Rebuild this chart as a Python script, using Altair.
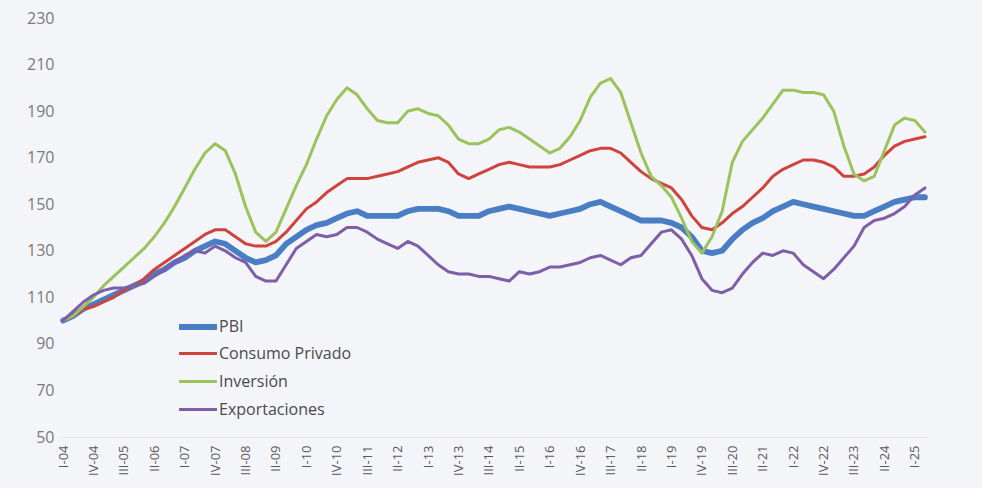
import altair as alt
import pandas as pd

romans = ["I", "II", "III", "IV"]
quarters = [f"{r}-{y:02d}" for y in range(4, 26) for r in romans][:86]

pbi = [100, 102, 105, 107, 109, 111, 113, 115, 117, 120, 122, 125, 127, 130, 132, 134, 133, 130, 127, 125,
       126, 128, 133, 136, 139, 141, 142, 144, 146, 147, 145, 145, 145, 145, 147, 148, 148, 148, 147, 145,
       145, 145, 147, 148, 149, 148, 147, 146, 145, 146, 147, 148, 150, 151, 149, 147, 145, 143, 143, 143,
       142, 140, 136, 130, 129, 130, 135, 139, 142, 144, 147, 149, 151, 150, 149, 148, 147, 146, 145, 145,
       147, 149, 151, 152, 153, 153]
consumo = [100, 102, 105, 106, 108, 110, 113, 115, 118, 122, 125, 128, 131, 134, 137, 139, 139, 136, 133, 132,
           132, 134, 138, 143, 148, 151, 155, 158, 161, 161, 161, 162, 163, 164, 166, 168, 169, 170, 168, 163,
           161, 163, 165, 167, 168, 167, 166, 166, 166, 167, 169, 171, 173, 174, 174, 172, 168, 164, 161, 159,
           157, 152, 145, 140, 139, 142, 146, 149, 153, 157, 162, 165, 167, 169, 169, 168, 166, 162, 162, 163,
           166, 171, 175, 177, 178, 179]
inversion = [100, 102, 106, 110, 115, 119, 123, 127, 131, 136, 142, 149, 157, 165, 172, 176, 173, 163, 149, 138,
             134, 138, 148, 158, 167, 178, 188, 195, 200, 197, 191, 186, 185, 185, 190, 191, 189, 188, 184, 178,
             176, 176, 178, 182, 183, 181, 178, 175, 172, 174, 179, 186, 196, 202, 204, 198, 185, 172, 162, 158,
             153, 144, 134, 129, 136, 147, 168, 177, 182, 187, 193, 199, 199, 198, 198, 197, 190, 175, 163, 160,
             162, 173, 184, 187, 186, 181]
exportaciones = [100, 104, 108, 111, 113, 114, 114, 115, 116, 119, 122, 125, 128, 130, 129, 132, 130, 127, 125, 119,
                 117, 117, 124, 131, 134, 137, 136, 137, 140, 140, 138, 135, 133, 131, 134, 132, 128, 124, 121, 120,
                 120, 119, 119, 118, 117, 121, 120, 121, 123, 123, 124, 125, 127, 128, 126, 124, 127, 128, 133, 138,
                 139, 135, 128, 118, 113, 112, 114, 120, 125, 129, 128, 130, 129, 124, 121, 118, 122, 127, 132, 140,
                 143, 144, 146, 149, 154, 157]

series_names = ["PBI", "Consumo Privado", "Inversión", "Exportaciones"]
series_colors = ["#4a7ec4", "#d0433d", "#9bc35b", "#7e5ea8"]
series_widths = [5.8, 3, 3, 3]
y_ticks = [50, 70, 90, 110, 130, 150, 170, 190, 210, 230]

rows = []
for name, vals in zip(series_names, [pbi, consumo, inversion, exportaciones]):
    for q, v in zip(quarters, vals):
        rows.append({"trimestre": q, "serie": name, "valor": v})
df = pd.DataFrame(rows)

legend_opts = dict(orient="none", legendX=122, legendY=293,
                   symbolType="M-1.46,0H1.46", symbolSize=676,
                   labelFont="Open Sans", labelFontSize=16,
                   labelColor="#4a4a4a", labelOffset=5,
                   rowPadding=0, gridAlign="all")

chart = alt.Chart(df).mark_line(strokeJoin="round", strokeCap="round").encode(
    x=alt.X("trimestre:O", sort=quarters, title=None,
            scale=alt.Scale(type="point", padding=0.3),
            axis=alt.Axis(values=quarters[::3], labelAngle=-90, labelFontSize=13,
                          labelColor="#595959", labelFont="Open Sans", labelPadding=8,
                          ticks=False, domain=True, domainColor="#e2e6ea", grid=False)),
    y=alt.Y("valor:Q", title=None,
            scale=alt.Scale(domain=[50, 230], nice=False, zero=False),
            axis=alt.Axis(values=y_ticks, labelFontSize=16, labelColor="#7a7a7a",
                          labelFont="Open Sans", labelPadding=6, ticks=False,
                          domain=False, grid=False)),
    color=alt.Color("serie:N", sort=series_names, title=None,
                    scale=alt.Scale(domain=series_names, range=series_colors),
                    legend=alt.Legend(**legend_opts)),
    strokeWidth=alt.StrokeWidth("serie:N", sort=series_names, title=None,
                                scale=alt.Scale(type="ordinal", domain=series_names, range=series_widths),
                                legend=alt.Legend(**legend_opts)),
    order=alt.Order("serie_order:Q"),
).transform_calculate(
    serie_order="indexof(['Exportaciones','Inversión','Consumo Privado','PBI'], datum.serie)"
).properties(
    width=868, height=419,
    padding={"left": 60, "top": 18, "right": 54, "bottom": 51},
    autosize=alt.AutoSizeParams(type="none"),
    background="#f3f5f8",
).configure_view(stroke=None)

chart.save("out.html", embed_options={"renderer": "svg", "actions": False})
